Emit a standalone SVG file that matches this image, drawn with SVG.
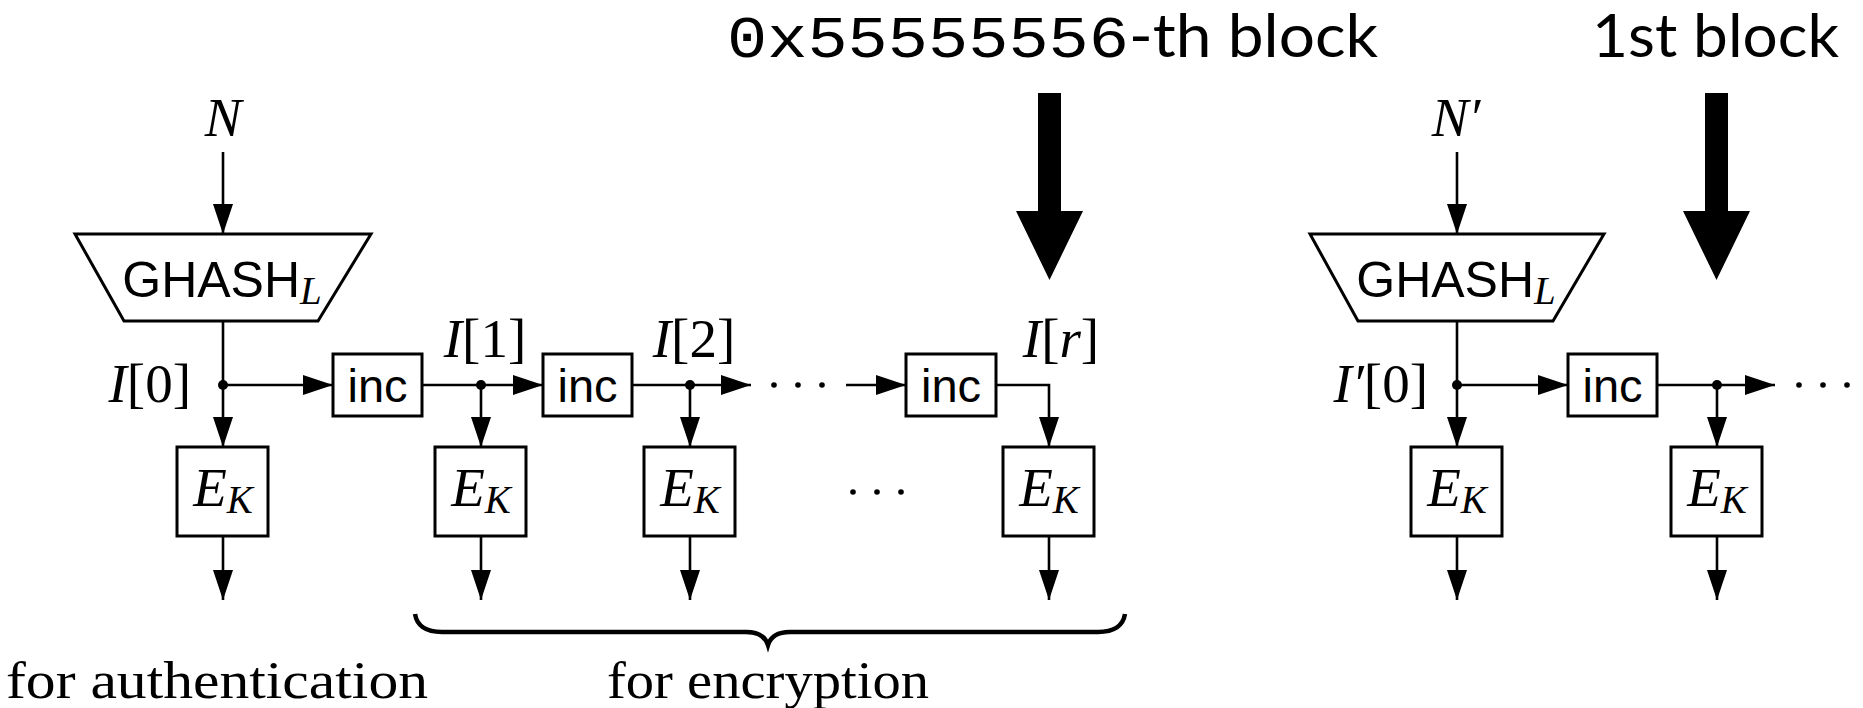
<svg xmlns="http://www.w3.org/2000/svg" width="1863" height="708" viewBox="0 0 1863 708">
<style>
.box{fill:#fff;stroke:#000;stroke-width:3}
.ln{fill:none;stroke:#000;stroke-width:2.6}
.math{font-family:"Liberation Serif",serif;font-style:italic;font-size:55px}
.rm{font-style:normal}
.sub{font-size:39px}
.sans{font-family:"Liberation Sans",Arial,sans-serif;font-size:47px}
.ghash{font-family:"Liberation Sans",Arial,sans-serif;font-size:50px}
.big{font-family:Lato,"Open Sans",sans-serif;font-size:60px}
.mono{font-family:"Liberation Mono","Courier New",monospace;font-size:60px}
.serif{font-family:"Liberation Serif",serif;font-size:52px}
.dot{fill:#000}
</style>
<defs>
<marker id="ah" markerUnits="userSpaceOnUse" viewBox="0 0 30 20" refX="30" refY="10" markerWidth="30" markerHeight="20" orient="auto">
<path d="M0,0 L30,10 L0,20 z" fill="#000"/>
</marker>
</defs>
<rect width="1863" height="708" fill="#fff"/>

<g id="connectors">
<line class="ln" x1="223" y1="152" x2="223" y2="234" marker-end="url(#ah)"/>
<line class="ln" x1="223" y1="321" x2="223" y2="447" marker-end="url(#ah)"/>
<line class="ln" x1="223" y1="385" x2="333" y2="385" marker-end="url(#ah)"/>
<line class="ln" x1="422" y1="385" x2="543" y2="385" marker-end="url(#ah)"/>
<line class="ln" x1="481" y1="385" x2="481" y2="447" marker-end="url(#ah)"/>
<line class="ln" x1="632" y1="385" x2="751" y2="385" marker-end="url(#ah)"/>
<line class="ln" x1="690" y1="385" x2="690" y2="447" marker-end="url(#ah)"/>
<line class="ln" x1="846" y1="385" x2="906" y2="385" marker-end="url(#ah)"/>
<path class="ln" d="M996,385 H1049 V447" marker-end="url(#ah)"/>
<line class="ln" x1="223" y1="536" x2="223" y2="600" marker-end="url(#ah)"/>
<line class="ln" x1="481" y1="536" x2="481" y2="600" marker-end="url(#ah)"/>
<line class="ln" x1="690" y1="536" x2="690" y2="600" marker-end="url(#ah)"/>
<line class="ln" x1="1049" y1="536" x2="1049" y2="600" marker-end="url(#ah)"/>
<line class="ln" x1="1457" y1="152" x2="1457" y2="234" marker-end="url(#ah)"/>
<line class="ln" x1="1457" y1="321" x2="1457" y2="447" marker-end="url(#ah)"/>
<line class="ln" x1="1457" y1="385" x2="1568" y2="385" marker-end="url(#ah)"/>
<line class="ln" x1="1657" y1="385" x2="1775" y2="385" marker-end="url(#ah)"/>
<line class="ln" x1="1717" y1="385" x2="1717" y2="447" marker-end="url(#ah)"/>
<line class="ln" x1="1457" y1="536" x2="1457" y2="600" marker-end="url(#ah)"/>
<line class="ln" x1="1717" y1="536" x2="1717" y2="600" marker-end="url(#ah)"/>
<circle class="dot" cx="223" cy="385" r="5"/>
<circle class="dot" cx="481" cy="385" r="5"/>
<circle class="dot" cx="690" cy="385" r="5"/>
<circle class="dot" cx="1457" cy="385" r="5"/>
<circle class="dot" cx="1717" cy="385" r="5"/>
</g>

<g id="dots">
<circle class="dot" cx="774" cy="385" r="2.8"/>
<circle class="dot" cx="798" cy="385" r="2.8"/>
<circle class="dot" cx="822" cy="385" r="2.8"/>
<circle class="dot" cx="853" cy="492" r="2.8"/>
<circle class="dot" cx="877" cy="492" r="2.8"/>
<circle class="dot" cx="901" cy="492" r="2.8"/>
<circle class="dot" cx="1799" cy="385" r="2.8"/>
<circle class="dot" cx="1823" cy="385" r="2.8"/>
<circle class="dot" cx="1847" cy="385" r="2.8"/>
</g>

<g id="labels">
<text class="math" x="223" y="136" text-anchor="middle">N</text>
<text class="math" x="1456" y="136" text-anchor="middle">N′</text>
<text class="math" x="191" y="402" text-anchor="end">I<tspan class="rm">[0]</tspan></text>
<text class="math" x="485" y="357" text-anchor="middle">I<tspan class="rm">[1]</tspan></text>
<text class="math" x="694" y="357" text-anchor="middle">I<tspan class="rm">[2]</tspan></text>
<text class="math" x="1061" y="357" text-anchor="middle">I<tspan class="rm">[</tspan>r<tspan class="rm">]</tspan></text>
<text class="math" x="1428" y="402" text-anchor="end">I′<tspan class="rm">[0]</tspan></text>
</g>

<g id="ghash1">
<polygon class="box" points="75,234 371,234 318,321 124,321"/>
<text x="222" y="297" text-anchor="middle"><tspan class="ghash">GHASH</tspan><tspan class="math sub" dy="7">L</tspan></text>
</g>
<g id="ghash2">
<polygon class="box" points="1310,234 1604,234 1553,321 1358,321"/>
<text x="1456" y="297" text-anchor="middle"><tspan class="ghash">GHASH</tspan><tspan class="math sub" dy="7">L</tspan></text>
</g>

<g id="inc1"><rect class="box" x="333" y="354" width="89" height="62"/><text class="sans" x="377.5" y="402" text-anchor="middle">inc</text></g>
<g id="inc2"><rect class="box" x="543" y="354" width="89" height="62"/><text class="sans" x="587.5" y="402" text-anchor="middle">inc</text></g>
<g id="inc3"><rect class="box" x="906" y="354" width="90" height="62"/><text class="sans" x="951" y="402" text-anchor="middle">inc</text></g>
<g id="inc4"><rect class="box" x="1568" y="354" width="89" height="62"/><text class="sans" x="1612.5" y="402" text-anchor="middle">inc</text></g>

<g id="ek1"><rect class="box" x="177" y="447" width="91" height="89"/><text class="math" x="223" y="506" text-anchor="middle">E<tspan class="sub" dy="7">K</tspan></text></g>
<g id="ek2"><rect class="box" x="435" y="447" width="91" height="89"/><text class="math" x="481" y="506" text-anchor="middle">E<tspan class="sub" dy="7">K</tspan></text></g>
<g id="ek3"><rect class="box" x="644" y="447" width="91" height="89"/><text class="math" x="690" y="506" text-anchor="middle">E<tspan class="sub" dy="7">K</tspan></text></g>
<g id="ek4"><rect class="box" x="1003" y="447" width="91" height="89"/><text class="math" x="1049" y="506" text-anchor="middle">E<tspan class="sub" dy="7">K</tspan></text></g>
<g id="ek5"><rect class="box" x="1411" y="447" width="91" height="89"/><text class="math" x="1457" y="506" text-anchor="middle">E<tspan class="sub" dy="7">K</tspan></text></g>
<g id="ek6"><rect class="box" x="1671" y="447" width="91" height="89"/><text class="math" x="1717" y="506" text-anchor="middle">E<tspan class="sub" dy="7">K</tspan></text></g>

<g id="brace">
<path d="M415,614 Q418,632 442,632 H746 Q764,632 768,645 Q772,632 790,632 H1098 Q1122,632 1125,614" fill="none" stroke="#000" stroke-width="4.5"/>
</g>
<g id="bottom-labels">
<text class="serif" x="6" y="698" textLength="422" lengthAdjust="spacingAndGlyphs">for authentication</text>
<text class="serif" x="607" y="698" textLength="322" lengthAdjust="spacingAndGlyphs">for encryption</text>
</g>

<g id="bigarrow1">
<polygon points="1038,93 1061,93 1061,211 1083,211 1049.5,280 1016,211 1038,211" fill="#000"/>
<text y="57"><tspan class="mono" x="727" textLength="402" lengthAdjust="spacingAndGlyphs">0x55555556</tspan><tspan class="big" textLength="249" lengthAdjust="spacingAndGlyphs">-th block</tspan></text>
</g>
<g id="bigarrow2">
<polygon points="1705,93 1728,93 1728,211 1750,211 1716.5,280 1683,211 1705,211" fill="#000"/>
<text class="big" x="1592" y="57" textLength="247" lengthAdjust="spacingAndGlyphs">1st block</text>
</g>
</svg>
